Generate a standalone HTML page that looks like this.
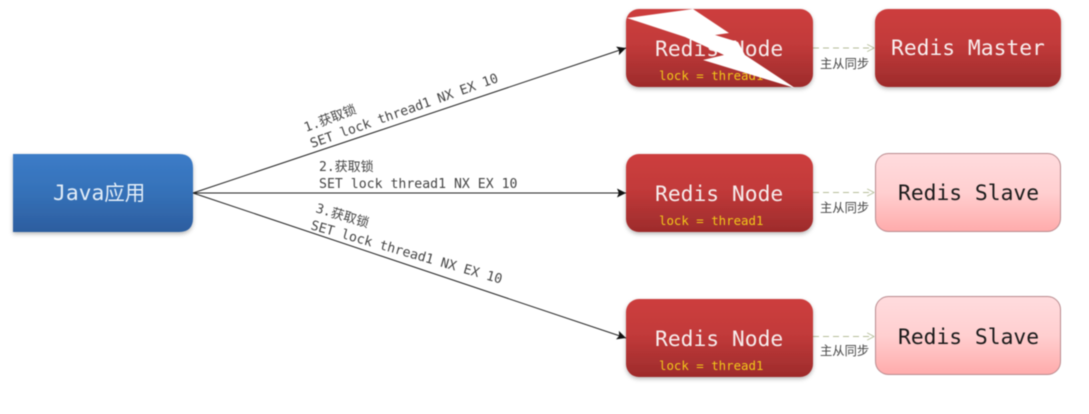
<!DOCTYPE html>
<html>
<head>
<meta charset="utf-8">
<style>
html,body{margin:0;padding:0;background:#fff;width:1089px;height:414px;overflow:hidden}
svg{display:block;filter:blur(0.5px)}
.m{font-family:"DejaVu Sans Mono","Liberation Mono","Noto Sans CJK SC",monospace}
</style>
</head>
<body>
<svg width="1089" height="414" viewBox="0 0 1089 414" xmlns="http://www.w3.org/2000/svg">
<defs>
<linearGradient id="red" x1="0" y1="0" x2="0" y2="1">
<stop offset="0" stop-color="#cd3e3d"/><stop offset="0.45" stop-color="#c23a3a"/><stop offset="1" stop-color="#9d2b2b"/>
</linearGradient>
<linearGradient id="pink" x1="0" y1="0" x2="0" y2="1">
<stop offset="0" stop-color="#ffdcde"/><stop offset="0.5" stop-color="#ffcfd0"/><stop offset="1" stop-color="#ffabab"/>
</linearGradient>
<linearGradient id="blue" x1="0" y1="0" x2="0" y2="1">
<stop offset="0" stop-color="#3c7cc8"/><stop offset="0.5" stop-color="#3571b8"/><stop offset="1" stop-color="#2c5d9f"/>
</linearGradient>
<filter id="sh" x="-10%" y="-10%" width="120%" height="130%">
<feDropShadow dx="0" dy="2" stdDeviation="2" flood-color="#000" flood-opacity="0.28"/>
</filter>
<marker id="ah" viewBox="0 0 10 10" refX="10" refY="5" markerWidth="11" markerHeight="9" orient="auto" markerUnits="userSpaceOnUse">
<path d="M0,0 L10,5 L0,10 L2,5 Z" fill="#111"/>
</marker>
<marker id="oh" viewBox="0 0 10 10" refX="9.5" refY="5" markerWidth="8" markerHeight="12" orient="auto" markerUnits="userSpaceOnUse">
<path d="M1,0.5 L9.5,5 L1,9.5" fill="none" stroke="#b5bd99" stroke-width="1"/>
</marker>
</defs>

<!-- connectors -->
<line x1="193" y1="193" x2="626" y2="48" stroke="#222" stroke-width="1" marker-end="url(#ah)"/>
<line x1="193" y1="193" x2="626" y2="193" stroke="#222" stroke-width="1" marker-end="url(#ah)"/>
<line x1="193" y1="193" x2="626" y2="338" stroke="#222" stroke-width="1" marker-end="url(#ah)"/>

<g stroke="#b5bd99" stroke-width="1" stroke-dasharray="6 4" fill="none">
<line x1="813" y1="48" x2="874" y2="48" marker-end="url(#oh)"/>
<line x1="813" y1="192.500" x2="874" y2="192.500" marker-end="url(#oh)"/>
<line x1="813" y1="336.500" x2="874" y2="336.500" marker-end="url(#oh)"/>
</g>

<!-- Java box -->
<path d="M13,154 H179 Q193,154 193,168 V218 Q193,232 179,232 H13 Z" fill="url(#blue)" filter="url(#sh)"/>
<text x="53" y="200" class="m" font-size="21.300" fill="#e4eef8">Java<tspan font-size="20.500">应用</tspan></text>

<!-- Redis nodes -->
<rect x="626" y="9" width="187" height="78" rx="13" fill="url(#red)" filter="url(#sh)"/>
<rect x="626" y="154" width="187" height="78" rx="13" fill="url(#red)" filter="url(#sh)"/>
<rect x="626" y="299" width="187" height="78" rx="13" fill="url(#red)" filter="url(#sh)"/>
<g class="m" font-size="21.300" fill="#f6ecec">
<text x="655" y="56">Redis Node</text>
<text x="655" y="201">Redis Node</text>
<text x="655" y="346">Redis Node</text>
</g>
<g class="m" font-size="12.400" fill="#f1c71a">
<text x="659" y="80">lock = thread1</text>
<text x="659" y="225">lock = thread1</text>
<text x="659" y="370">lock = thread1</text>
</g>

<!-- Lightning -->
<polygon points="627,18 693,9 729,33 715,35 738,42 745,55 795,88 703,60 724,55 685,37" fill="#fff"/>

<!-- Master / Slaves -->
<rect x="875" y="9" width="186" height="78" rx="13" fill="url(#red)" filter="url(#sh)"/>
<text x="891" y="55" class="m" font-size="21.300" fill="#f8eeee">Redis Master</text>
<rect x="875.500" y="153.500" width="185" height="78" rx="13" fill="url(#pink)" stroke="#b98a8e" stroke-width="1"/>
<text x="898" y="200" class="m" font-size="21.300" fill="#1a1a1a">Redis Slave</text>
<rect x="875.500" y="296.500" width="185" height="78" rx="13" fill="url(#pink)" stroke="#b98a8e" stroke-width="1"/>
<text x="898" y="344" class="m" font-size="21.300" fill="#1a1a1a">Redis Slave</text>

<!-- sync labels -->
<g font-size="12.300" fill="#444" style="font-family:'Noto Sans CJK SC',sans-serif">
<text x="820" y="68">主从同步</text>
<text x="820" y="212">主从同步</text>
<text x="820" y="355">主从同步</text>
</g>

<!-- edge labels -->
<g class="m" font-size="13.200" fill="#444">
<g transform="translate(306,132) rotate(-20.500)"><text x="0" y="0" font-size="13">1.获取锁</text></g>
<g transform="translate(312,148) rotate(-19.500)"><text x="0" y="0">SET lock thread1 NX EX 10</text></g>
<text x="319" y="171" font-size="13">2.获取锁</text>
<text x="319" y="188">SET lock thread1 NX EX 10</text>
<g transform="translate(315,212) rotate(16.500)"><text x="0" y="0" font-size="13">3.获取锁</text></g>
<g transform="translate(310,229) rotate(16)"><text x="0" y="0">SET lock thread1 NX EX 10</text></g>
</g>
</svg>
</body>
</html>
